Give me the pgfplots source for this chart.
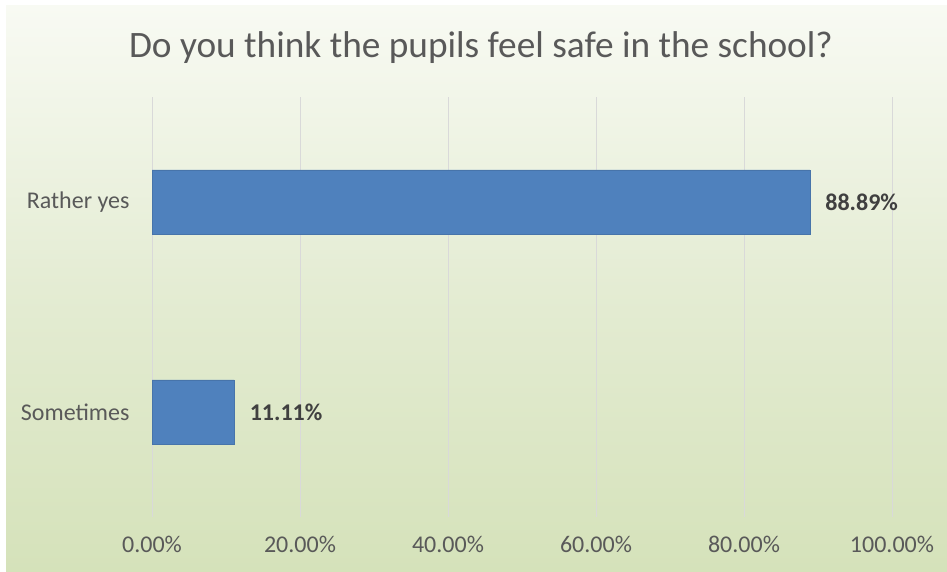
\documentclass[border=0pt]{standalone}
\usepackage{pgfplots}
\pgfplotsset{compat=1.18}
\usepackage{fontspec}
\setmainfont{Carlito}
\definecolor{barblue}{HTML}{4F81BD}
\definecolor{txtgray}{HTML}{595959}
\definecolor{lbldark}{HTML}{404040}
\definecolor{gridgray}{HTML}{D9D9D9}
\definecolor{bgtop}{HTML}{F8FAF3}
\definecolor{bgmid}{HTML}{E4ECD3}
\definecolor{bgbot}{HTML}{D5E2BA}
\begin{document}
\begin{tikzpicture}[x=1pt,y=1pt]
  % page and background
  \fill[white] (0,0) rectangle (947,572);
  \shade[top color=bgtop, bottom color=bgbot, middle color=bgmid] (6,0) rectangle (947,566);
  \node[text=txtgray, font=\fontsize{37.3}{44}\selectfont] at (481,524) {Do you think the pupils feel safe in the school?};

  \begin{axis}[
      at={(152pt,55pt)}, anchor=south west,
      scale only axis,
      width=740pt, height=420pt,
      xbar, bar width=64pt,
      xmin=0, xmax=100,
      ymin=-0.5, ymax=1.5,
      axis line style={draw=none},
      xmajorgrids=true,
      grid style={gridgray, line width=1pt},
      xtick={0,20,40,60,80,100},
      xticklabels={0.00\%,20.00\%,40.00\%,60.00\%,80.00\%,100.00\%},
      ytick={0,1},
      yticklabels={Sometimes,Rather yes},
      major tick length=0pt,
      tick label style={text=txtgray, font=\fontsize{24}{28}\selectfont},
      xticklabel style={yshift=-16pt},
      yticklabel style={xshift=-19pt},
      point meta=explicit symbolic,
      nodes near coords,
      nodes near coords style={text=lbldark, font=\bfseries\fontsize{24}{28}\selectfont, anchor=west, xshift=12pt},
      clip=false,
    ]
    \addplot[fill=barblue, draw=barblue!90!black, line width=0.5pt] coordinates {
      (11.11,0) [11.11\%]
      (88.89,1) [88.89\%]
    };
  \end{axis}
\end{tikzpicture}
\end{document}
